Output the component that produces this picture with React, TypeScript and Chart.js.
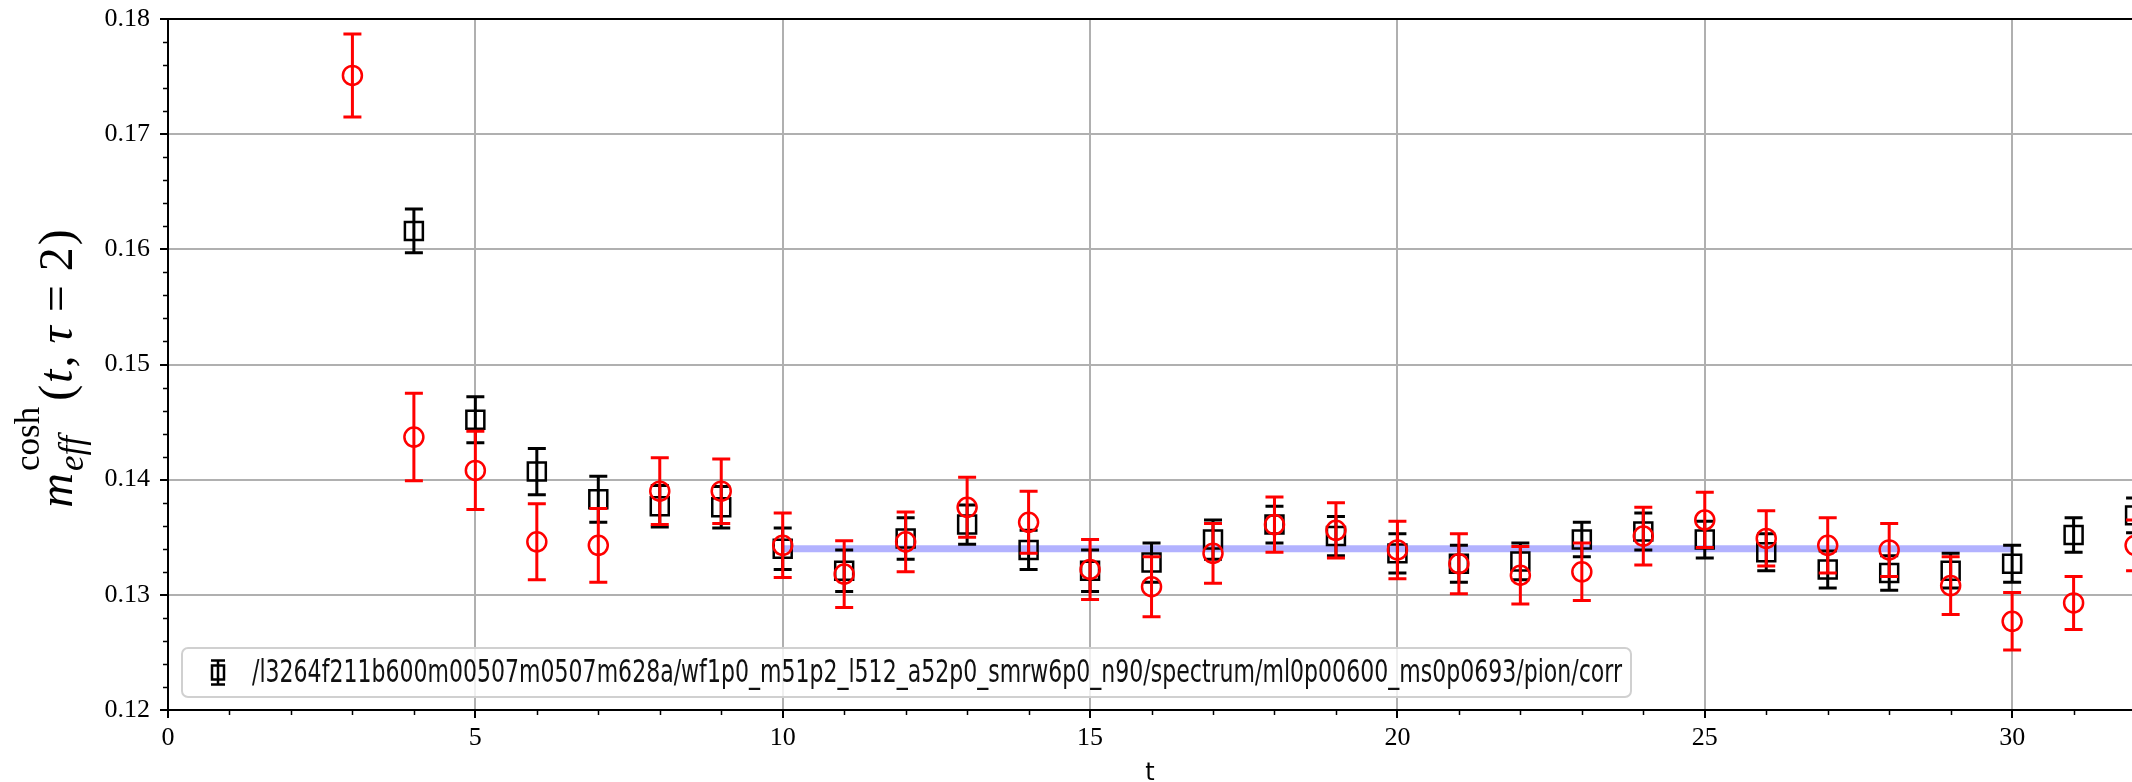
import React, { useEffect, useRef } from 'react';
import { Chart, registerables } from 'chart.js';

Chart.register(...registerables);

// ---- data ----
const blackT = [4, 5, 6, 7, 8, 9, 10, 11, 12, 13, 14, 15, 16, 17, 18, 19, 20, 21, 22, 23, 24, 25, 26, 27, 28, 29, 30, 31, 32];
const blackY = [0.1616, 0.1452, 0.1407, 0.1383, 0.1377, 0.1376, 0.1340, 0.1321, 0.1349, 0.1361, 0.1339, 0.1321, 0.1328, 0.1348, 0.1361, 0.1351, 0.1336, 0.1327, 0.1329, 0.1348, 0.1355, 0.1348, 0.1337, 0.1322, 0.1319, 0.1321, 0.1327, 0.1352, 0.1369];
const blackErr = [0.0019, 0.0020, 0.0020, 0.0020, 0.0018, 0.0018, 0.0018, 0.0018, 0.0018, 0.0017, 0.0017, 0.0018, 0.0017, 0.0017, 0.0016, 0.0017, 0.0017, 0.0016, 0.0016, 0.0015, 0.0016, 0.0016, 0.0016, 0.0016, 0.0015, 0.0015, 0.0016, 0.0015, 0.0015];

const redT = [3, 4, 5, 6, 7, 8, 9, 10, 11, 12, 13, 14, 15, 16, 17, 18, 19, 20, 21, 22, 23, 24, 25, 26, 27, 28, 29, 30, 31, 32];
const redY = [0.1751, 0.1437, 0.1408, 0.1346, 0.1343, 0.1390, 0.1390, 0.1343, 0.1318, 0.1346, 0.1376, 0.1363, 0.1322, 0.1307, 0.1336, 0.1361, 0.1356, 0.1339, 0.1327, 0.1317, 0.1320, 0.1351, 0.1365, 0.1349, 0.1343, 0.1339, 0.1308, 0.1277, 0.1293, 0.1343];
const redErr = [0.0036, 0.0038, 0.0034, 0.0033, 0.0032, 0.0029, 0.0028, 0.0028, 0.0029, 0.0026, 0.0026, 0.0027, 0.0026, 0.0026, 0.0026, 0.0024, 0.0024, 0.0025, 0.0026, 0.0025, 0.0025, 0.0025, 0.0024, 0.0024, 0.0024, 0.0023, 0.0025, 0.0025, 0.0023, 0.0022];

const fitT = [10, 30];
const fitY = [0.134, 0.134];

const xTicks = [0, 5, 10, 15, 20, 25, 30];
const xMinor = [1, 2, 3, 4, 6, 7, 8, 9, 11, 12, 13, 14, 16, 17, 18, 19, 21, 22, 23, 24, 26, 27, 28, 29, 31];
const yTicks = [0.12, 0.13, 0.14, 0.15, 0.16, 0.17, 0.18];
const yMinor = [0.122, 0.124, 0.126, 0.128, 0.132, 0.134, 0.136, 0.138, 0.142, 0.144, 0.146, 0.148, 0.152, 0.154, 0.156, 0.158, 0.162, 0.164, 0.166, 0.168, 0.172, 0.174, 0.176, 0.178];

const legendLabel = '/l3264f211b600m00507m0507m628a/wf1p0_m51p2_l512_a52p0_smrw6p0_n90/spectrum/ml0p00600_ms0p0693/pion/corr';
const xLabel = 't';

const W = 2132;
const H = 782;

const errorBarPlugin = {
  id: 'errorBars',
  beforeDatasetDraw(chart: any, args: any) {
    const ds = chart.data.datasets[args.index];
    if (!ds.errors) return;
    const ctx = chart.ctx;
    const xs = chart.scales.x;
    const ys = chart.scales.y;
    ctx.save();
    ctx.beginPath();
    ctx.rect(chart.chartArea.left, chart.chartArea.top, W, chart.chartArea.bottom - chart.chartArea.top);
    ctx.clip();
    ctx.strokeStyle = ds.errColor;
    ctx.lineWidth = 3;
    ctx.lineCap = 'butt';
    ds.data.forEach((p: any, i: number) => {
      const e = ds.errors[i];
      const px = xs.getPixelForValue(p.x);
      const pt = ys.getPixelForValue(p.y + e);
      const pb = ys.getPixelForValue(p.y - e);
      const cap = 9;
      ctx.beginPath();
      ctx.moveTo(px, pt);
      ctx.lineTo(px, pb);
      ctx.moveTo(px - cap, pt);
      ctx.lineTo(px + cap, pt);
      ctx.moveTo(px - cap, pb);
      ctx.lineTo(px + cap, pb);
      ctx.stroke();
    });
    ctx.restore();
  },
};

const decorPlugin = {
  id: 'decor',
  afterDraw(chart: any) {
    const ctx = chart.ctx;
    const ca = chart.chartArea;
    const xs = chart.scales.x;
    const ys = chart.scales.y;
    ctx.save();
    // top spine
    ctx.strokeStyle = '#000';
    ctx.lineWidth = 2;
    ctx.beginPath();
    ctx.moveTo(ca.left - 1, ca.top);
    ctx.lineTo(W, ca.top);
    ctx.stroke();
    // minor ticks
    ctx.lineWidth = 1.5;
    ctx.beginPath();
    xMinor.forEach((v) => {
      const px = Math.round(xs.getPixelForValue(v)) + 0.5;
      ctx.moveTo(px, ca.bottom);
      ctx.lineTo(px, ca.bottom + 5);
    });
    yMinor.forEach((v) => {
      const py = Math.round(ys.getPixelForValue(v)) + 0.5;
      ctx.moveTo(ca.left, py);
      ctx.lineTo(ca.left - 5, py);
    });
    ctx.stroke();

    // x label
    ctx.fillStyle = '#000';
    ctx.font = '24px "DejaVu Sans"';
    ctx.textAlign = 'center';
    ctx.textBaseline = 'alphabetic';
    ctx.fillText(xLabel, (ca.left + ca.right) / 2, ca.bottom + 70);

    // y label (math)
    const F = 48;
    const S = 35;
    const mainFont = `${F}px "Liberation Serif"`;
    const mainIt = `italic ${F}px "Liberation Serif"`;
    const supFont = `${S}px "Liberation Serif"`;
    const subIt = `italic ${S}px "Liberation Serif"`;
    type Piece = { t: string; f: string; dy?: number; gap?: number; stack?: boolean };
    const pieces: Piece[] = [
      { t: 'm', f: mainIt, gap: 2 },
      { t: 'cosh', f: supFont, dy: -33, stack: true },
      { t: 'eff', f: subIt, dy: 11, gap: 6 },
      { t: '(', f: mainFont, gap: 2 },
      { t: 't', f: mainIt, gap: 2 },
      { t: ',', f: mainFont, gap: 12 },
      { t: 'τ', f: mainIt, gap: 14 },
      { t: '=', f: mainFont, gap: 14 },
      { t: '2', f: mainFont, gap: 2 },
      { t: ')', f: mainFont, gap: 0 },
    ];
    const widths: number[] = pieces.map((p) => {
      ctx.font = p.f;
      return ctx.measureText(p.t).width;
    });
    let total = 0;
    for (let i = 0; i < pieces.length; i++) {
      const p = pieces[i];
      if (p.stack) continue;
      if (i > 0 && pieces[i - 1].stack) {
        total += Math.max(widths[i], widths[i - 1]) + (p.gap || 0);
      } else {
        total += widths[i] + (p.gap || 0);
      }
    }
    ctx.translate(ca.left - 96, (ca.top + ca.bottom) / 2 + 4);
    ctx.rotate(-Math.PI / 2);
    ctx.textAlign = 'left';
    ctx.textBaseline = 'alphabetic';
    let u = -total / 2;
    for (let i = 0; i < pieces.length; i++) {
      const p = pieces[i];
      ctx.font = p.f;
      ctx.fillText(p.t, u, p.dy || 0);
      if (p.stack) continue;
      if (i > 0 && pieces[i - 1].stack) {
        u += Math.max(widths[i], widths[i - 1]) + (p.gap || 0);
      } else {
        u += widths[i] + (p.gap || 0);
      }
    }
    ctx.restore();

    // legend
    ctx.save();
    ctx.font = '32px "DejaVu Sans"';
    const targetW = 1370;
    const sx = targetW / ctx.measureText(legendLabel).width;
    const bx = ca.left + 14;
    const bh = 49;
    const by = ca.bottom - 13 - bh;
    const textX = bx + 70;
    const bw = textX - bx + targetW + 9;
    ctx.beginPath();
    ctx.roundRect(bx, by, bw, bh, 6);
    ctx.fillStyle = 'rgba(255,255,255,0.8)';
    ctx.fill();
    ctx.strokeStyle = '#d0d0d0';
    ctx.lineWidth = 2;
    ctx.stroke();
    const mx = bx + 36;
    const my = by + bh / 2;
    ctx.strokeStyle = '#000';
    ctx.lineWidth = 2.5;
    ctx.strokeRect(mx - 6, my - 7, 12, 14);
    ctx.beginPath();
    ctx.moveTo(mx, my - 12);
    ctx.lineTo(mx, my + 12);
    ctx.moveTo(mx - 7, my - 12);
    ctx.lineTo(mx + 7, my - 12);
    ctx.moveTo(mx - 7, my + 12);
    ctx.lineTo(mx + 7, my + 12);
    ctx.stroke();
    ctx.fillStyle = '#111';
    ctx.textAlign = 'left';
    ctx.textBaseline = 'middle';
    ctx.translate(textX, my + 1);
    ctx.scale(sx, 1);
    ctx.fillText(legendLabel, 0, 0);
    ctx.restore();
  },
};

export default function App() {
  const ref = useRef<HTMLCanvasElement | null>(null);
  useEffect(() => {
    if (!ref.current) return;
    const chart = new Chart(ref.current, {
      type: 'scatter',
      data: {
        datasets: [
          {
            label: 'red',
            data: redT.map((t, i) => ({ x: t, y: redY[i] })),
            pointStyle: 'circle',
            pointRadius: 9.5,
            pointBorderWidth: 2.5,
            borderColor: '#ff0000',
            backgroundColor: 'rgba(0,0,0,0)',
            showLine: false,
            order: 0,
            clip: false,
            errors: redErr,
            errColor: '#ff0000',
          } as any,
          {
            label: legendLabel,
            data: blackT.map((t, i) => ({ x: t, y: blackY[i] })),
            pointStyle: 'rect',
            pointRadius: 12.7,
            pointBorderWidth: 2.5,
            borderColor: '#000000',
            backgroundColor: 'rgba(0,0,0,0)',
            showLine: false,
            order: 1,
            clip: false,
            errors: blackErr,
            errColor: '#000000',
          } as any,
          {
            label: 'fit',
            data: fitT.map((t, i) => ({ x: t, y: fitY[i] })),
            showLine: true,
            pointRadius: 0,
            borderColor: 'rgba(0,0,255,0.3)',
            borderWidth: 7,
            borderCapStyle: 'butt',
            order: 2,
          } as any,
        ],
      },
      options: {
        responsive: false,
        animation: false,
        devicePixelRatio: 1,
        layout: { autoPadding: false, padding: { top: 19, left: 0, right: 0, bottom: 0 } },
        plugins: { legend: { display: false }, tooltip: { enabled: false } },
        scales: {
          x: {
            type: 'linear',
            position: 'bottom',
            min: 0,
            max: 31.95,
            afterBuildTicks: (s: any) => {
              s.ticks = xTicks.map((v) => ({ value: v }));
            },
            afterFit: (s: any) => {
              s.height = 72;
              s.paddingLeft = 0;
              s.paddingRight = 0;
            },
            grid: { color: '#b0b0b0', lineWidth: 2, tickColor: '#000', tickLength: 8, tickWidth: 2 },
            border: { color: '#000', width: 2 },
            ticks: {
              font: { family: 'Liberation Serif', size: 26 },
              color: '#000',
              padding: 5,
              maxRotation: 0,
              autoSkip: false,
              callback: (v: any) => String(v),
            },
          },
          y: {
            type: 'linear',
            min: 0.12,
            max: 0.18,
            afterBuildTicks: (s: any) => {
              s.ticks = yTicks.map((v) => ({ value: v }));
            },
            afterFit: (s: any) => {
              s.width = 168;
              s.paddingTop = 0;
              s.paddingBottom = 0;
            },
            grid: { color: '#b0b0b0', lineWidth: 2, tickColor: '#000', tickLength: 8, tickWidth: 2 },
            border: { color: '#000', width: 2 },
            ticks: {
              font: { family: 'Liberation Serif', size: 26 },
              color: '#000',
              padding: 10,
              autoSkip: false,
              callback: (v: any) => Number(v).toFixed(2),
            },
          },
        },
      },
      plugins: [errorBarPlugin, decorPlugin],
    });
    return () => chart.destroy();
  }, []);
  return (
    <div style={{ position: 'absolute', left: 0, top: 0, width: W, height: H, background: '#fff' }}>
      <canvas ref={ref} width={W} height={H} style={{ width: W, height: H, display: 'block' }} />
    </div>
  );
}
